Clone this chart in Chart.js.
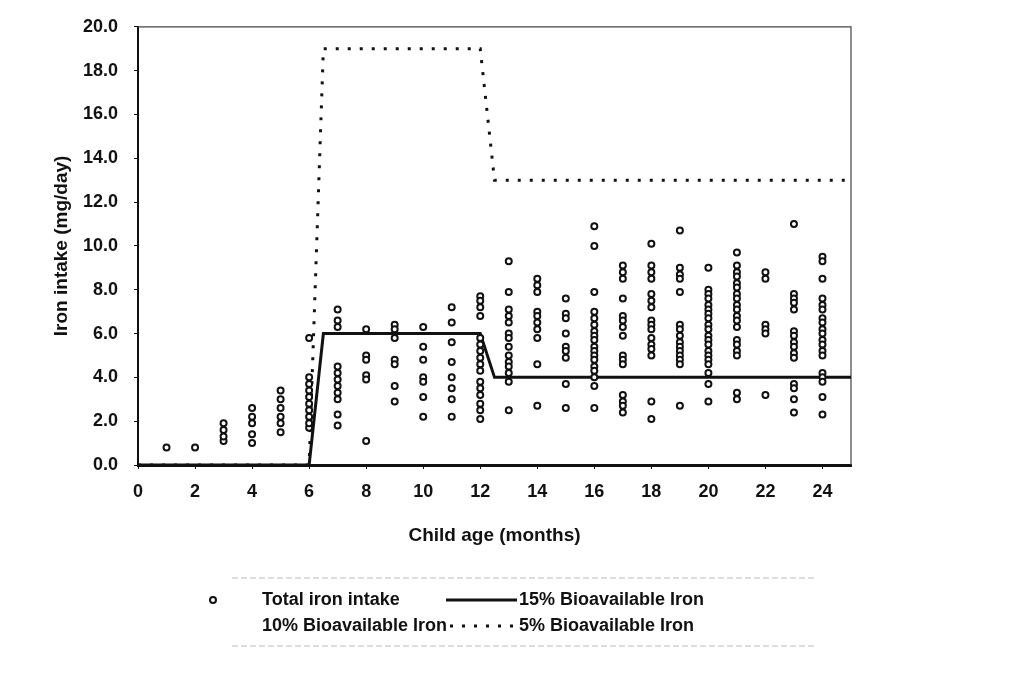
<!DOCTYPE html>
<html>
<head>
<meta charset="utf-8">
<script src="https://cdn.jsdelivr.net/npm/chart.js@4/dist/chart.umd.min.js"></script>
<style>
  html, body { margin: 0; padding: 0; background: #fff; }
  canvas { display: block; }
</style>
</head>
<body>
<canvas id="ironChart" width="1035" height="675"></canvas>
<script>
// child age (months) and total iron intake (mg/day) per child
const ages = [1, 2, 3, 4, 5, 6, 7, 8, 9, 10, 11, 12, 13, 14, 15, 16, 17, 18, 19, 20, 21, 22, 23, 24];
const totalIntake = [
  [0.8],
  [0.8],
  [1.1, 1.3, 1.6, 1.9],
  [1.0, 1.4, 1.9, 2.2, 2.6],
  [1.5, 1.9, 2.2, 2.6, 3.0, 3.4],
  [1.7, 1.9, 2.2, 2.5, 2.8, 3.1, 3.4, 3.7, 4.0, 5.8],
  [7.1, 6.6, 6.3, 4.5, 4.2, 3.9, 3.6, 3.3, 3.0, 2.3, 1.8],
  [6.2, 5.0, 4.8, 4.1, 3.9, 1.1],
  [6.4, 6.2, 5.8, 4.8, 4.6, 3.6, 2.9],
  [6.3, 5.4, 4.8, 4.0, 3.8, 3.1, 2.2],
  [7.2, 6.5, 5.6, 4.7, 4.0, 3.5, 3.0, 2.2],
  [7.7, 7.5, 7.2, 6.8, 5.8, 5.5, 5.2, 4.9, 4.6, 4.3, 3.8, 3.5, 3.2, 2.8, 2.5, 2.1],
  [9.3, 7.9, 7.1, 6.8, 6.5, 6.0, 5.8, 5.4, 5.0, 4.7, 4.5, 4.2, 3.8, 2.5],
  [8.5, 8.2, 7.9, 7.0, 6.8, 6.5, 6.2, 5.8, 4.6, 2.7],
  [7.6, 6.9, 6.7, 6.0, 5.4, 5.2, 4.9, 3.7, 2.6],
  [10.9, 10.0, 7.9, 7.0, 6.7, 6.4, 6.1, 5.9, 5.7, 5.4, 5.2, 5.0, 4.8, 4.5, 4.3, 4.0, 3.6, 2.6],
  [9.1, 8.8, 8.5, 7.6, 6.8, 6.6, 6.3, 5.9, 5.0, 4.8, 4.6, 3.2, 2.9, 2.7, 2.4],
  [10.1, 9.1, 8.8, 8.5, 7.8, 7.5, 7.2, 6.6, 6.4, 6.2, 5.8, 5.5, 5.3, 5.0, 2.9, 2.1],
  [10.7, 9.0, 8.7, 8.5, 7.9, 6.4, 6.2, 5.9, 5.6, 5.4, 5.2, 5.0, 4.8, 4.6, 2.7],
  [9.0, 8.0, 7.8, 7.6, 7.3, 7.1, 6.9, 6.7, 6.4, 6.2, 5.9, 5.7, 5.5, 5.2, 5.0, 4.8, 4.6, 4.2, 3.7, 2.9],
  [9.7, 9.1, 8.8, 8.6, 8.3, 8.1, 7.8, 7.6, 7.3, 7.1, 6.8, 6.6, 6.3, 5.7, 5.5, 5.2, 5.0, 3.3, 3.0],
  [8.8, 8.5, 6.4, 6.2, 6.0, 3.2],
  [11.0, 7.8, 7.6, 7.4, 7.1, 6.1, 5.9, 5.6, 5.4, 5.1, 4.9, 3.7, 3.5, 3.0, 2.4],
  [9.5, 9.3, 8.5, 7.6, 7.3, 7.1, 6.7, 6.5, 6.2, 6.0, 5.7, 5.5, 5.2, 5.0, 4.2, 4.0, 3.8, 3.1, 2.3]
];

// requirement lines (step shape)
const stepAges = [0, 6, 6.5, 12, 12.5, 25];
const bio15 = [0, 0, 6, 6, 4, 4];
const bio10 = [];
const bio5 = [0, 0, 19, 19, 13, 13];

const xTicks = [0, 2, 4, 6, 8, 10, 12, 14, 16, 18, 20, 22, 24];
const yTicks = [0, 2, 4, 6, 8, 10, 12, 14, 16, 18, 20];

const FONT = '"Liberation Sans", Arial, sans-serif';
Chart.defaults.font.family = FONT;
Chart.defaults.color = '#111';

const intakePoints = [];
ages.forEach(function(age, i) {
  totalIntake[i].forEach(function(v) { intakePoints.push({ x: age, y: v }); });
});
function toXY(ys) {
  return ys.map(function(y, i) { return { x: stepAges[i], y: y }; });
}

// plot frame (top / right edges)
const framePlugin = {
  id: 'frame',
  beforeDatasetsDraw(chart) {
    const a = chart.chartArea, ctx = chart.ctx;
    ctx.save();
    ctx.strokeStyle = '#444';
    ctx.lineWidth = 1.2;
    ctx.beginPath();
    ctx.moveTo(a.left, a.top);
    ctx.lineTo(a.right, a.top);
    ctx.lineTo(a.right, a.bottom);
    ctx.stroke();
    ctx.restore();
  }
};

// two-column legend under the plot
const legendPlugin = {
  id: 'gridLegend',
  afterDraw(chart) {
    const ctx = chart.ctx;
    const slots = [
      { mx: 213, lx0: 0, lx1: 0, tx: 262, y: 600 },
      { mx: 0, lx0: 446, lx1: 517, tx: 519, y: 600 },
      { mx: 0, lx0: 0, lx1: 0, tx: 262, y: 626 },
      { mx: 0, lx0: 450, lx1: 517, tx: 519, y: 626 }
    ];
    ctx.save();
    ctx.strokeStyle = '#bbb';
    ctx.lineWidth = 1;
    ctx.setLineDash([6, 3]);
    ctx.beginPath();
    ctx.moveTo(232, 578); ctx.lineTo(815, 578);
    ctx.moveTo(232, 646); ctx.lineTo(815, 646);
    ctx.stroke();
    ctx.setLineDash([]);
    chart.data.datasets.forEach(function(ds, i) {
      const s = slots[i];
      if (ds.data.length && !ds.showLine) {
        ctx.beginPath();
        ctx.lineWidth = 2;
        ctx.strokeStyle = '#111';
        ctx.fillStyle = '#fff';
        ctx.arc(s.mx, s.y, 3, 0, Math.PI * 2);
        ctx.fill();
        ctx.stroke();
      } else if (ds.data.length) {
        ctx.beginPath();
        ctx.lineWidth = ds.borderWidth;
        ctx.strokeStyle = ds.borderColor;
        ctx.setLineDash(ds.borderDash || []);
        ctx.moveTo(s.lx0, s.y);
        ctx.lineTo(s.lx1, s.y);
        ctx.stroke();
        ctx.setLineDash([]);
      }
      ctx.fillStyle = '#111';
      ctx.font = 'bold 18px ' + FONT;
      ctx.textBaseline = 'middle';
      ctx.textAlign = 'left';
      ctx.fillText(ds.label, s.tx, s.y);
    });
    ctx.restore();
  }
};

new Chart(document.getElementById('ironChart'), {
  type: 'scatter',
  data: {
    datasets: [
      {
        label: 'Total iron intake',
        data: intakePoints,
        pointRadius: 3,
        pointBorderWidth: 2,
        pointBackgroundColor: '#fff',
        pointBorderColor: '#111',
        showLine: false
      },
      {
        label: '15% Bioavailable Iron',
        data: toXY(bio15),
        showLine: true,
        borderColor: '#111',
        borderWidth: 3,
        pointRadius: 0,
        fill: false
      },
      {
        label: '10% Bioavailable Iron',
        data: toXY(bio10),
        showLine: true,
        borderColor: '#111',
        borderWidth: 2,
        pointRadius: 0,
        fill: false
      },
      {
        label: '5% Bioavailable Iron',
        data: toXY(bio5),
        showLine: true,
        borderColor: '#111',
        borderWidth: 3,
        borderDash: [3, 9],
        pointRadius: 0,
        fill: false
      }
    ]
  },
  options: {
    responsive: false,
    animation: false,
    layout: { padding: { left: 40, top: 20, right: 184, bottom: 128 } },
    plugins: {
      legend: { display: false },
      tooltip: { enabled: false }
    },
    scales: {
      x: {
        type: 'linear',
        min: 0,
        max: 25,
        afterBuildTicks: function(scale) { scale.ticks = xTicks.map(function(v) { return { value: v }; }); },
        afterFit: function(scale) { scale.height = 82; },
        grid: { drawOnChartArea: false, tickLength: 4, color: '#111' },
        border: { color: '#111', width: 3 },
        ticks: { font: { size: 18, weight: 'bold' }, padding: 12, maxRotation: 0 },
        title: { display: true, text: 'Child age (months)', font: { size: 19, weight: 'bold' }, padding: { top: 0, bottom: 0 } }
      },
      y: {
        min: 0,
        max: 20,
        afterBuildTicks: function(scale) { scale.ticks = yTicks.map(function(v) { return { value: v }; }); },
        afterFit: function(scale) { scale.width = 98; },
        grid: { drawOnChartArea: false, tickLength: 4, color: '#111' },
        border: { color: '#111', width: 2 },
        ticks: {
          font: { size: 18, weight: 'bold' },
          padding: 16,
          callback: function(v) { return v.toFixed(1); }
        },
        title: { display: true, text: 'Iron intake (mg/day)', font: { size: 19, weight: 'bold' }, padding: { top: 10, bottom: 0 } }
      }
    }
  },
  plugins: [framePlugin, legendPlugin]
});
</script>
</body>
</html>
